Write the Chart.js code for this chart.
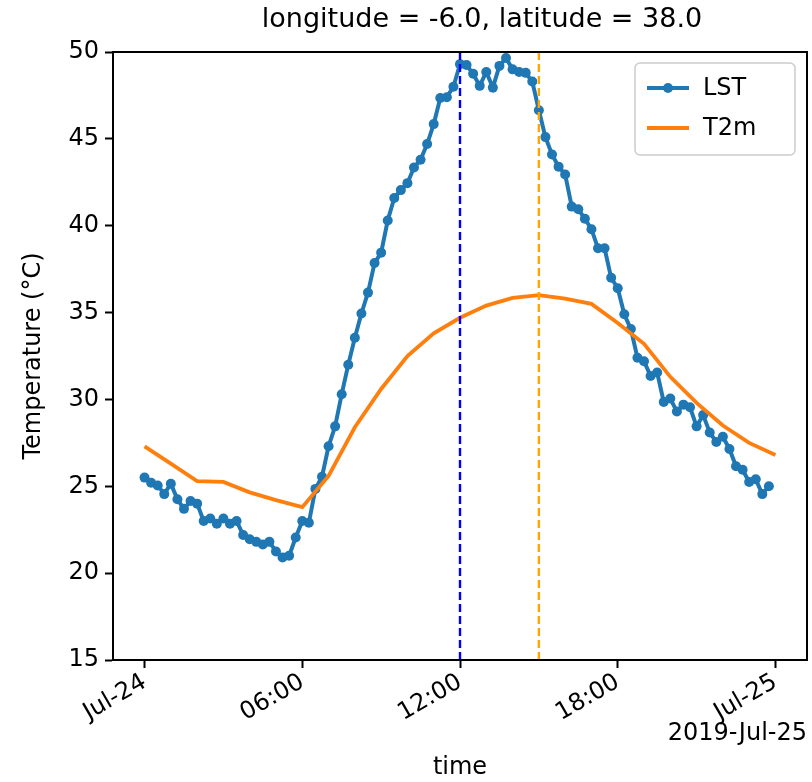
<!DOCTYPE html>
<html><head><meta charset="utf-8">
<script src="https://cdn.jsdelivr.net/npm/chart.js@4/dist/chart.umd.min.js"></script>
<style>html,body{margin:0;padding:0;background:#fff;} canvas{display:block;}</style>
</head><body>
<canvas id="c" width="812" height="782"></canvas>
<script>
// ---- data ----
const chartTitle = "longitude = -6.0, latitude = 38.0";
const offsetLabel = "2019-Jul-25";
const lstTimes = [
 "00:00","00:15","00:30","00:45","01:00","01:15","01:30","01:45",
 "02:00","02:15","02:30","02:45","03:00","03:15","03:30","03:45",
 "04:00","04:15","04:30","04:45","05:00","05:15","05:30","05:45",
 "06:00","06:15","06:30","06:45","07:00","07:15","07:30","07:45",
 "08:00","08:15","08:30","08:45","09:00","09:15","09:30","09:45",
 "10:00","10:15","10:30","10:45","11:00","11:15","11:30","11:45",
 "12:00","12:15","12:30","12:45","13:00","13:15","13:30","13:45",
 "14:00","14:15","14:30","14:45","15:00","15:15","15:30","15:45",
 "16:00","16:15","16:30","16:45","17:00","17:15","17:30","17:45",
 "18:00","18:15","18:30","18:45","19:00","19:15","19:30","19:45",
 "20:00","20:15","20:30","20:45","21:00","21:15","21:30","21:45",
 "22:00","22:15","22:30","22:45","23:00","23:15","23:30","23:45"];
const lstValues = [
 25.5,25.2,25.05,24.55,25.15,24.25,23.7,24.15,
 24.0,23.0,23.15,22.85,23.15,22.85,23.0,22.2,
 21.95,21.8,21.65,21.8,21.25,20.9,21.0,22.05,
 23.0,22.9,24.85,25.55,27.3,28.45,30.3,32.0,
 33.55,34.95,36.15,37.85,38.45,40.3,41.6,42.05,
 42.45,43.35,43.8,44.7,45.85,47.35,47.4,48.0,
 49.3,49.25,48.75,48.05,48.85,47.95,49.2,49.65,
 49.0,48.85,48.8,48.3,46.65,45.1,44.1,43.4,
 42.95,41.1,40.95,40.4,39.8,38.7,38.7,37.0,
 36.4,34.9,34.05,32.4,32.2,31.35,31.55,29.85,
 30.05,29.3,29.7,29.55,28.45,29.1,28.1,27.55,
 27.85,27.15,26.15,25.95,25.25,25.4,24.55,25.0];
const t2mTimes = ["00:00","01:00","02:00","03:00","04:00","05:00","06:00","07:00","08:00",
 "09:00","10:00","11:00","12:00","13:00","14:00","15:00","16:00","17:00","18:00",
 "19:00","20:00","21:00","22:00","23:00","24:00"];
const t2mValues = [27.3,26.3,25.3,25.25,24.65,24.2,23.8,25.6,28.4,
 30.6,32.5,33.8,34.7,35.4,35.85,36.0,35.8,35.5,34.4,
 33.2,31.3,29.8,28.5,27.5,26.8];
const vlineTimes = ["12:00","15:00"];
const vlineColors = ["#0000ff","#ffa500"];
const xTickTimes = ["00:00","06:00","12:00","18:00","24:00"];
const xTickLabels = ["Jul-24","06:00","12:00","18:00","Jul-25"];
const yMin = 15, yMax = 50, yStep = 5;

// ---- helpers ----
const toH = s => { const [h,m] = s.split(":").map(Number); return h + m/60; };
const FONT = "'DejaVu Sans', sans-serif";
const FS = 24;
const lstData = lstTimes.map((t,i)=>({x:toH(t), y:lstValues[i]}));
const t2mData = t2mTimes.map((t,i)=>({x:toH(t), y:t2mValues[i]}));
const xTickH = xTickTimes.map(toH);

const vlineSets = vlineTimes.map((t,i)=>({
  label: "_v"+i,
  data: [{x:toH(t), y:yMin},{x:toH(t), y:yMax}],
  borderColor: vlineColors[i], borderWidth: 2.4, borderDash: [8,4],
  pointRadius: 0, order: 0, clip: false
}));

const decor = {
  id: 'decor',
  afterDatasetsDraw(chart) {
    const {ctx, chartArea: a} = chart;
    ctx.save();
    ctx.strokeStyle = '#000'; ctx.lineWidth = 2;
    ctx.strokeRect(a.left, a.top, a.right - a.left, a.bottom - a.top);
    ctx.restore();
  },
  afterDraw(chart) {
    const {ctx, chartArea: a} = chart;
    ctx.save();
    // title
    ctx.fillStyle = '#000';
    ctx.font = "27px " + FONT;
    ctx.textAlign = 'center'; ctx.textBaseline = 'middle';
    ctx.fillText(chartTitle, (a.left + a.right)/2 + 22, 20);
    // offset text
    ctx.font = FS + "px " + FONT;
    ctx.textAlign = 'right';
    ctx.fillText(offsetLabel, a.right, 734);
    // legend
    const bw = 160, bh = 92;
    const bx = a.right - 12 - bw, by = a.top + 11;
    ctx.beginPath();
    if (ctx.roundRect) ctx.roundRect(bx, by, bw, bh, 5); else ctx.rect(bx, by, bw, bh);
    ctx.fillStyle = 'rgba(255,255,255,0.85)'; ctx.fill();
    ctx.strokeStyle = '#cccccc'; ctx.lineWidth = 1.5; ctx.stroke();
    const ds = chart.data.datasets;
    [0,1].forEach((k, i) => {
      const y = by + 25 + i*40;
      ctx.beginPath();
      ctx.moveTo(bx + 12, y); ctx.lineTo(bx + 54, y);
      ctx.strokeStyle = ds[k].borderColor; ctx.lineWidth = 3.8; ctx.stroke();
      if (ds[k].pointRadius > 0) {
        ctx.beginPath(); ctx.arc(bx + 33, y, 5, 0, Math.PI*2);
        ctx.fillStyle = ds[k].borderColor; ctx.fill();
      }
      ctx.fillStyle = '#000'; ctx.font = FS + "px " + FONT;
      ctx.textAlign = 'left'; ctx.textBaseline = 'middle';
      ctx.fillText(ds[k].label, bx + 68, y + 1);
    });
    ctx.restore();
  }
};

new Chart(document.getElementById('c'), {
  type: 'line',
  data: {
    datasets: [
      { label: 'LST', data: lstData, borderColor: '#1f77b4', backgroundColor: '#1f77b4',
        borderWidth: 4, pointRadius: 5, pointBorderWidth: 0, pointHoverRadius: 5,
        tension: 0, order: 2 },
      { label: 'T2m', data: t2mData, borderColor: '#ff7f0e', backgroundColor: '#ff7f0e',
        borderWidth: 3.8, pointRadius: 0, tension: 0, order: 1 },
      ...vlineSets
    ]
  },
  options: {
    responsive: false, animation: false,
    layout: { padding: { left: 0, right: 3, top: 52, bottom: 0 } },
    plugins: { legend: { display: false }, title: { display: false }, tooltip: { enabled: false } },
    scales: {
      x: {
        type: 'linear', min: -1.2, max: 25.2,
        afterBuildTicks: s => { s.ticks = xTickH.map(v => ({value: v})); },
        afterFit: s => { s.height = 122; },
        ticks: {
          autoSkip: false, maxRotation: 30, minRotation: 30, padding: 0,
          color: '#000', font: { family: FONT, size: FS },
          callback: v => { const i = xTickH.indexOf(v); return i >= 0 ? xTickLabels[i] : ''; }
        },
        grid: { drawOnChartArea: false, drawTicks: true, tickLength: 8, tickColor: '#000', tickWidth: 2 },
        border: { display: true, color: '#000', width: 2 },
        title: { display: true, text: 'time', color: '#000', font: { family: FONT, size: FS }, padding: { top: 0, bottom: 0 } }
      },
      y: {
        min: yMin, max: yMax,
        afterFit: s => { s.width = 113; },
        ticks: { stepSize: yStep, padding: 6, color: '#000', font: { family: FONT, size: FS } },
        grid: { drawOnChartArea: false, drawTicks: true, tickLength: 8, tickColor: '#000', tickWidth: 2 },
        border: { display: true, color: '#000', width: 2 },
        title: { display: true, text: 'Temperature (°C)', color: '#000', font: { family: FONT, size: FS }, padding: { top: 19, bottom: 0 } }
      }
    }
  },
  plugins: [decor]
});
</script>
</body></html>
